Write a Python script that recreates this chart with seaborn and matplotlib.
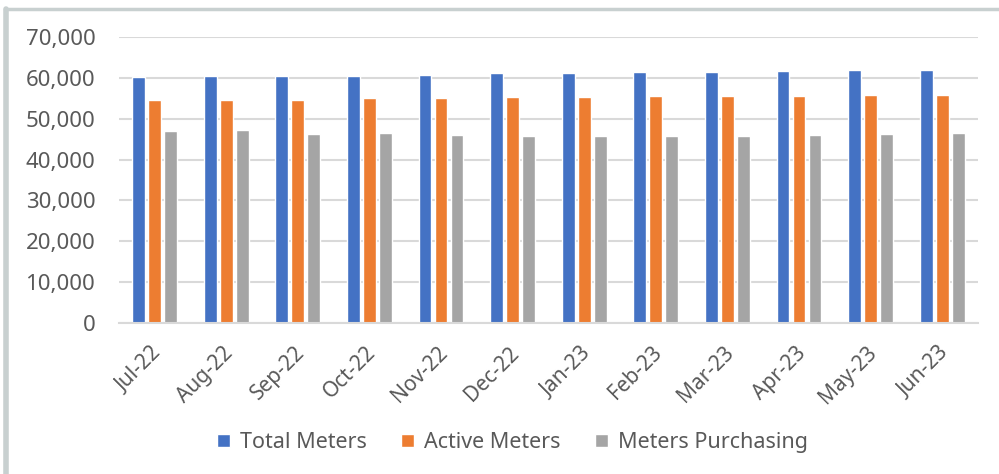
import matplotlib
matplotlib.use("Agg")
import matplotlib.pyplot as plt
import matplotlib.lines as mlines
import matplotlib.transforms as mtransforms
import seaborn as sns
import pandas as pd

months = ["Jul-22", "Aug-22", "Sep-22", "Oct-22", "Nov-22", "Dec-22",
          "Jan-23", "Feb-23", "Mar-23", "Apr-23", "May-23", "Jun-23"]
total_meters = [60250, 60570, 60570, 60570, 60800, 61140,
                61140, 61470, 61470, 61710, 61960, 61960]
active_meters = [54650, 54650, 54650, 54980, 54980, 55220,
                 55220, 55550, 55550, 55550, 55880, 55880]
meters_purchasing = [46900, 47220, 46240, 46570, 45990, 45670,
                     45670, 45670, 45670, 45990, 46240, 46570]
series_names = ["Total Meters", "Active Meters", "Meters Purchasing"]
colors = ["#4472C4", "#ED7D31", "#A5A5A5"]

df = pd.DataFrame({"Month": months,
                   series_names[0]: total_meters,
                   series_names[1]: active_meters,
                   series_names[2]: meters_purchasing})
long = df.melt(id_vars="Month", var_name="Series", value_name="Count")

sns.set_theme(style="white")
plt.rcParams["font.family"] = ["Noto Sans", "DejaVu Sans"]
text_color = "#595959"

fig = plt.figure(figsize=(9.99, 4.74), dpi=100)
ax = fig.add_axes([0.119, 0.3186, 0.86, 0.6034])

sns.barplot(data=long, x="Month", y="Count", hue="Series",
            hue_order=series_names, palette=colors, order=months,
            width=0.67, gap=0.2, ax=ax, legend=True, saturation=1)

ax.set_ylim(0, 70000)
ax.set_xlim(-0.5, len(months) - 0.5)
ax.set_yticks(range(0, 70001, 10000))
ax.set_yticklabels([f"{v:,}" for v in range(0, 70001, 10000)],
                   fontsize=16, color=text_color)
ax.yaxis.grid(True, color="#D9D9D9", linewidth=1.5)
ax.set_axisbelow(True)
ax.tick_params(axis="y", length=0, pad=17)

# category boundary ticks on the x axis
ax.set_xticks([i - 0.5 for i in range(len(months) + 1)], minor=True)
ax.set_xticks(range(len(months)))
ax.set_xticklabels(months, rotation=45, ha="right", rotation_mode="anchor",
                   fontsize=15, color=text_color)
ax.tick_params(axis="x", which="major", length=0, pad=14)
ax.tick_params(axis="x", which="minor", length=5, width=1.5, color="#D9D9D9")
for lbl in ax.get_xticklabels():
    lbl.set_transform(lbl.get_transform() +
                      mtransforms.ScaledTranslation(-0.04, 0, fig.dpi_scale_trans))

for side in ["top", "right", "left"]:
    ax.spines[side].set_visible(False)
ax.spines["bottom"].set_color("#D9D9D9")
ax.spines["bottom"].set_linewidth(1.5)
ax.set_xlabel("")
ax.set_ylabel("")

leg = ax.legend(loc="center", bbox_to_anchor=(0.513, 0.066),
                bbox_transform=fig.transFigure, ncol=3, frameon=False,
                fontsize=15.5, handlelength=0.6, handleheight=0.6,
                handletextpad=0.45, columnspacing=1.62)
for t in leg.get_texts():
    t.set_color(text_color)

# chart frame on top and left edges
fig.add_artist(mlines.Line2D([0.005, 1.0], [0.982, 0.982], color="#C8D0D0",
                             linewidth=2.5, transform=fig.transFigure))
fig.add_artist(mlines.Line2D([0.006, 0.006], [0.0, 0.982], color="#C8D0D0",
                             linewidth=4, transform=fig.transFigure))

fig.savefig("out.png", dpi=100)
